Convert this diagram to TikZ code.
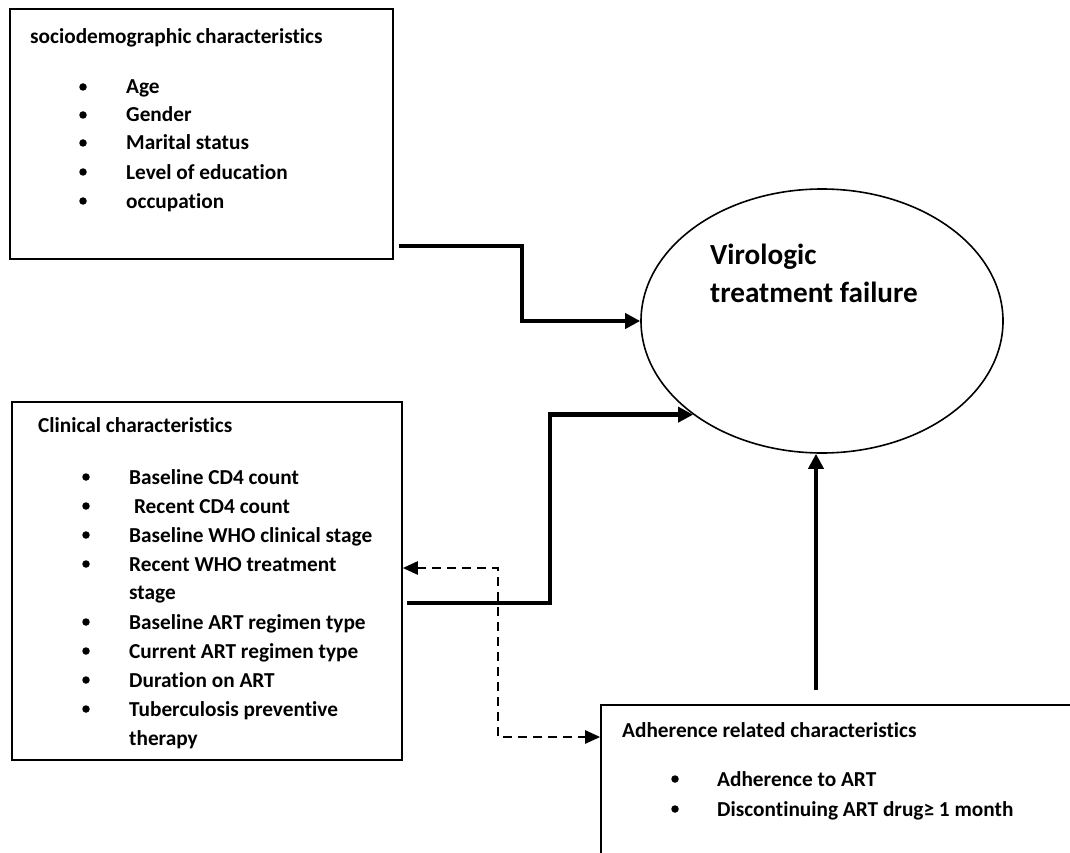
\documentclass[tikz,border=0pt]{standalone}
\usepackage{fontspec}
\setmainfont{Carlito}[Ligatures=NoCommon]
\usetikzlibrary{shapes.geometric,arrows.meta}
\begin{document}
\begin{tikzpicture}[x=1pt,y=-1pt,
  box/.style={draw, line width=1.6pt, rectangle, inner sep=0pt},
  txt/.style={anchor=base west, inner sep=0pt, font=\fontsize{21.3}{24}\selectfont\bfseries},
  bigtxt/.style={anchor=base west, inner sep=0pt, font=\fontsize{29.2}{33}\selectfont\bfseries},
  dot/.style={circle, fill, inner sep=0pt, minimum size=7.5pt},
  bigarrow/.style={-{Triangle[length=15pt,width=15pt]}, line width=4.8pt},
  dasharrow/.style={{Triangle[length=15pt,width=13pt]}-{Triangle[length=15pt,width=13pt]}, line width=2.4pt, dash pattern=on 9pt off 6pt}
]
\useasboundingbox (0,0) rectangle (1070,853);
\fill[white] (0,0) rectangle (1070,853);
\clip (0,0) rectangle (1070,853);

% boxes
\node[box, minimum width=383pt, minimum height=250pt] (b1) at (201.5,134) {};
\node[box, minimum width=390pt, minimum height=358pt] (b2) at (207,581) {};
\node[box, minimum width=479pt, minimum height=165pt] (b3) at (840.5,787.5) {};
\node[draw, ellipse, line width=1.6pt, minimum width=362pt, minimum height=264pt, inner sep=0pt] (vt) at (822,321) {};

% ellipse text
\node[bigtxt] (vt1) at (710,264) {Virologic};
\node[bigtxt] (vt2) at (710,302) {treatment failure};

% box 1
\node[txt] (t1) at (30,44) {sociodemographic characteristics};
\foreach \t/\y [count=\i] in {Age/87, Gender/115, Marital status/143, Level of education/172, occupation/201}{
  \node[dot] (s\i d) at (83,\y) {};
  \node[txt] (s\i) at (126,{\y+7}) {\t};
}

% box 2
\node[txt] (t2) at (38,432) {Clinical characteristics};
\foreach \t/\y [count=\i] in {Baseline CD4 count/477, {\ Recent CD4 count}/506, Baseline WHO clinical stage/535, Recent WHO treatment/564, Baseline ART regimen type/622, Current ART regimen type/651, Duration on ART/680, Tuberculosis preventive/709}{
  \node[dot] (c\i d) at (86,\y) {};
  \node[txt] (c\i) at (129,{\y+7}) {\t};
}
\node[txt] (c4b) at (129,599) {stage};
\node[txt] (c8b) at (129,745) {therapy};

% box 3
\node[txt] (t3) at (622,737) {Adherence related characteristics};
\node[dot] (a1d) at (675,779) {};
\node[txt] (a1) at (717,786) {Adherence to ART};
\node[dot] (a2d) at (675,809) {};
\node[txt] (a2) at (717,816) {Discontinuing ART drug≥ 1 month};

% connectors
\coordinate (p1) at (399,246);
\coordinate (k1) at (522,246);
\draw[bigarrow] (p1) -- (k1) |- (vt.west);

\coordinate (p2) at (407,603);
\coordinate (k2) at (550,603);
\draw[bigarrow] (p2) -- (k2) |- (vt.216.5);

\coordinate (p3) at (816,690);
\draw[bigarrow] (p3) -- (p3 |- vt.south);

\coordinate (d1) at (498,568);
\coordinate (d2) at (498,737);
\draw[dasharrow] (b2.east |- d1) -- (d1) -- (d2) -- (b3.west |- d2);
\end{tikzpicture}
\end{document}
